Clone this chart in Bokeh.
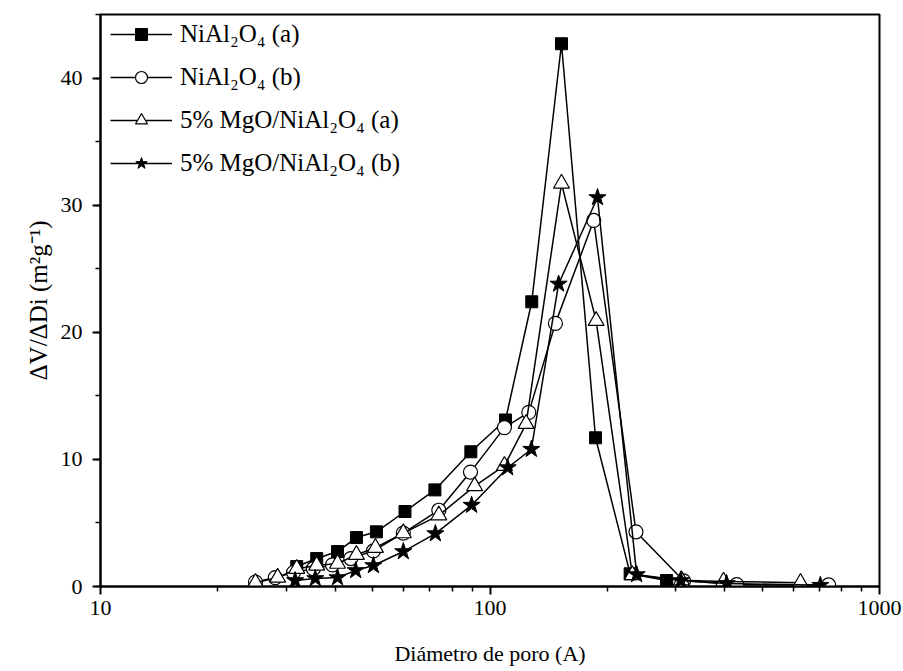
from bokeh.plotting import figure
from bokeh.models import Range1d, FixedTicker, SingleIntervalTicker, PrintfTickFormatter
from bokeh.embed import file_html
from bokeh.resources import INLINE

# Series data (pore diameter in Å, dV/dDi)
x_a = [31.9, 35.9, 40.6, 45.4, 51.1, 60.5, 72.2, 89.3, 109.6, 128.0, 152.6, 186.6, 229.0, 284.0]
y_a = [1.57, 2.2, 2.75, 3.85, 4.3, 5.9, 7.6, 10.6, 13.1, 22.4, 42.7, 11.7, 1.0, 0.47]

x_b = [25.0, 28.1, 31.3, 35.2, 39.4, 43.9, 50.2, 59.9, 73.9, 89.1, 108.9, 125.8, 147.2, 184.6, 237.0, 314.0, 430.0, 740.0]
y_b = [0.35, 0.7, 1.1, 1.4, 1.7, 2.2, 2.8, 4.2, 6.0, 9.0, 12.5, 13.7, 20.7, 28.8, 4.3, 0.45, 0.15, 0.12]

x_c = [25.0, 28.5, 31.9, 35.9, 40.6, 45.4, 50.8, 59.9, 73.9, 91.3, 108.9, 123.8, 152.6, 187.3, 232.0, 310.0, 397.7, 626.9]
y_c = [0.3, 0.7, 1.4, 1.65, 1.8, 2.5, 3.05, 4.2, 5.6, 7.9, 9.5, 12.8, 31.7, 20.9, 0.9, 0.5, 0.4, 0.3]

x_d = [31.6, 35.6, 40.6, 45.2, 50.2, 59.9, 72.4, 89.7, 111.0, 127.7, 150.0, 188.8, 238.0, 309.0, 405.0, 705.0]
y_d = [0.47, 0.63, 0.7, 1.26, 1.65, 2.75, 4.16, 6.4, 9.35, 10.8, 23.8, 30.6, 0.94, 0.47, 0.24, 0.1]

labels = ["NiAl₂O₄ (a)", "NiAl₂O₄ (b)", "5% MgO/NiAl₂O₄ (a)", "5% MgO/NiAl₂O₄ (b)"]
x_major = [10, 100, 1000]
x_minor = [20, 30, 40, 50, 60, 70, 80, 90, 200, 300, 400, 500, 600, 700, 800, 900]

FONT = "Liberation Serif"

p = figure(
    x_axis_type="log",
    x_range=Range1d(10, 1000),
    y_range=Range1d(0, 45),
    frame_width=779, frame_height=572,
    min_border_left=100, min_border_right=24, min_border_top=14, min_border_bottom=85,
    output_backend="svg", toolbar_location=None,
)
p.xgrid.visible = False
p.ygrid.visible = False
p.outline_line_color = "black"
p.outline_line_width = 2
p.background_fill_color = "white"
p.border_fill_color = "white"

p.xaxis.ticker = FixedTicker(ticks=x_major, minor_ticks=x_minor)
p.xaxis.formatter = PrintfTickFormatter(format="%d")
p.yaxis.ticker = SingleIntervalTicker(interval=10, num_minor_ticks=2)

for ax in (p.xaxis[0], p.yaxis[0]):
    ax.axis_line_width = 2
    ax.axis_line_color = "black"
    ax.major_tick_line_color = "black"
    ax.minor_tick_line_color = "black"
    ax.major_tick_line_width = 2
    ax.minor_tick_line_width = 1.5
    ax.major_tick_out = 8
    ax.major_tick_in = 0
    ax.minor_tick_out = 5
    ax.minor_tick_in = 0
    ax.major_label_text_font = FONT
    ax.major_label_text_font_size = "22px"
    ax.major_label_text_color = "black"
    ax.axis_label_text_font = FONT
    ax.axis_label_text_font_style = "normal"
    ax.axis_label_text_color = "black"

p.xaxis.axis_label = "Diámetro de poro (A)"
p.xaxis.axis_label_text_font_size = "22px"
p.xaxis.major_label_standoff = 6
p.xaxis.axis_label_standoff = 23
p.yaxis.axis_label = "ΔV/ΔDi (m²g⁻¹)"
p.yaxis.axis_label_text_font_size = "25px"
p.yaxis.major_label_standoff = 10
p.yaxis.axis_label_standoff = 6

LW = 1.5
# series a: filled squares
p.line(x_a, y_a, line_color="black", line_width=LW, legend_label=labels[0])
p.scatter(x_a, y_a, marker="square", size=12, fill_color="black", line_color="black", legend_label=labels[0])
# series b: open circles
p.line(x_b, y_b, line_color="black", line_width=LW, legend_label=labels[1])
p.scatter(x_b, y_b, marker="circle", size=14, fill_color="white", line_color="black", line_width=1.2, legend_label=labels[1])
# series c: open triangles
p.line(x_c, y_c, line_color="black", line_width=LW, legend_label=labels[2])
p.scatter(x_c, y_c, marker="triangle", size=16, fill_color="white", line_color="black", line_width=1.2, legend_label=labels[2])
# series d: filled stars
p.line(x_d, y_d, line_color="black", line_width=LW, legend_label=labels[3])
p.scatter(x_d, y_d, marker="star", size=18, fill_color="black", line_color="black", legend_label=labels[3])

lg = p.legend[0]
lg.location = (10, 408)
lg.border_line_color = None
lg.background_fill_alpha = 0
lg.padding = 0
lg.margin = 0
lg.spacing = 13
lg.glyph_width = 62
lg.glyph_height = 30
lg.label_height = 30
lg.label_standoff = 8
lg.label_text_font = FONT
lg.label_text_font_size = "25px"
lg.label_text_color = "black"

open("out.html", "w").write(file_html(p, INLINE))
